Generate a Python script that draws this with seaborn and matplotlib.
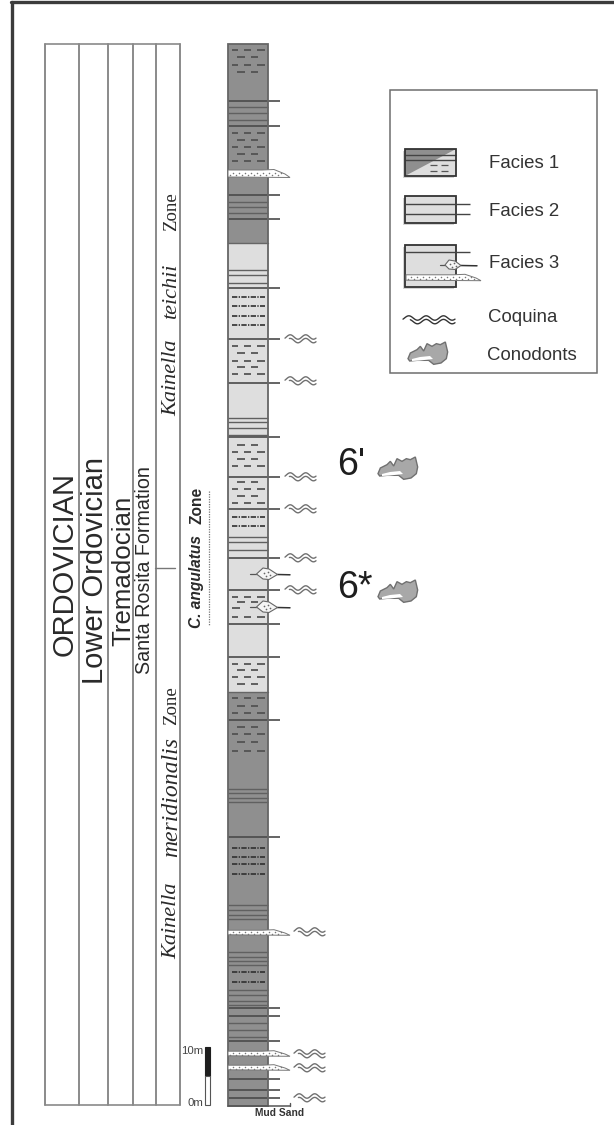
import numpy as np
import pandas as pd
import matplotlib
matplotlib.use("Agg")
import matplotlib.pyplot as plt
import seaborn as sns
from matplotlib.patches import Polygon, Rectangle

# ---------- data (positions along the log, in figure rows) ----------
facies_top = [44, 243, 692]
facies_base = [243, 692, 1106]
facies_shade = ["dark", "light", "dark"]
ticked_beds = [101, 126, 195, 219, 288, 339, 383, 437, 477, 509, 558, 590, 624, 657,
               720, 837, 1008, 1016, 1041, 1079, 1090, 1098]
thin_beds = [107, 113, 120, 202, 207, 213, 270, 275, 283, 418, 422, 428, 435, 537, 542, 550,
             789, 793, 798, 802, 905, 910, 915, 919, 952, 957, 961, 965, 990, 995, 1001, 1005,
             1023, 1030, 1037]
mud_rows_three = [50, 65, 133, 147, 161, 346, 361, 374, 452, 466, 489, 503, 597, 617,
                  664, 677, 698, 713, 734, 751]
mud_rows_two = [57, 72, 140, 154, 353, 367, 445, 459, 482, 496, 602, 670, 684, 706, 727, 742]
silt_rows = [297, 306, 316, 325, 517, 526, 848, 857, 864, 874, 972, 982]
sand_lenses = [174, 933, 1054, 1068]
nodules = [574, 607]
coquina_upper = [339, 381, 477, 509, 558, 590]
coquina_lower = [932, 1054, 1068, 1098]
table_columns = [45, 79, 108, 133, 156, 180]
conodont_marks = [("6'", 465), ("6*", 588)]
legend_labels = ["Facies 1", "Facies 2", "Facies 3", "Coquina", "Conodonts"]
legend_label_rows = [164, 212, 263, 318, 356]
legend_label_cols = [489, 489, 489, 488, 487]

DARK = "#8f8f8f"
LIGHT = "#dedede"
LEFT, RIGHT, TICK_END = 228, 268, 280
SANS = "Liberation Sans"
SERIF = "Liberation Serif"
INK = "#2a2a2a"

sns.set_theme(style="white")
plt.rcParams["font.family"] = [SANS, "DejaVu Sans"]

fig = plt.figure(figsize=(6.14, 11.25), dpi=100, facecolor="white")
ax = fig.add_axes([0, 0, 1, 1])
ax.set_xlim(0, 614)
ax.set_ylim(1125, 0)
ax.axis("off")


def segments(rows, spans):
    """Long table of line pieces for seaborn: one row position + one horizontal span each."""
    recs = []
    uid = 0
    for y in rows:
        for x0, x1 in spans:
            recs += [dict(x=x0, y=y, u=uid), dict(x=x1, y=y, u=uid)]
            uid += 1
    return pd.DataFrame(recs)


def draw(rows, spans, color, lw, **kw):
    sns.lineplot(data=segments(rows, spans), x="x", y="y", units="u", estimator=None,
                 color=color, lw=lw, ax=ax, legend=False, sort=False,
                 solid_capstyle="butt", **kw)
    ax.set_xlim(0, 614)
    ax.set_ylim(1125, 0)
    ax.axis("off")


def wave(x0, y, width=31, color="#707070", lw=1.0, periods=2.0):
    t = np.linspace(0, 1, 100)
    xs = x0 + width * t
    ys = y - 2 + 2.2 * np.sin(t * periods * 2 * np.pi + 2.6)
    ax.plot(xs, ys, color=color, lw=lw, zorder=6)
    ax.plot(xs[14:], ys[14:] + 3.6, color=color, lw=lw, zorder=6)


def sand_lens(x0, x1, y, h=4.0, tip=22):
    pts = [(x0, y - h), (x1 - tip - 6, y - h), (x1 - tip + 6, y - h - 0.5),
           (x1 - 5, y), (x1, y + h - 0.5), (x0, y + h - 1)]
    ax.add_patch(Polygon(pts, closed=True, fc="white", ec="#777777", lw=0.7, zorder=5))
    t = np.arange(x0 + 2, x1 - 6, 3.0)
    ax.scatter(t, y + 0.6 * ((-1.0) ** np.arange(t.size)), s=1.2, c="#777777",
               linewidths=0, zorder=6)


def nodule(xc, y, w=10.5, h=6.0, left=17, right=23):
    ax.plot([xc - left, xc - w], [y, y], color="#555555", lw=0.9, zorder=5)
    ax.plot([xc + w, xc + right], [y + 0.5, y + 0.8], color="#333333", lw=1.1, zorder=5)
    pts = [(xc - w, y), (xc - 4, y - h), (xc + 2, y - h + 1), (xc + w, y + 0.5),
           (xc + 2, y + h - 0.5), (xc - 4, y + h - 1)]
    ax.add_patch(Polygon(pts, closed=True, fc="#f5f5f5", ec="#666666", lw=0.8, zorder=6))
    ax.scatter([xc - 3, xc + 1, xc - 1, xc + 3], [y - 1.5, y - 2, y + 1.5, y + 1], s=1.5,
               c="#666666", linewidths=0, zorder=7)


CONODONT = np.array([(473, 285), (480, 268), (500, 258), (510, 248), (520, 262), (530, 240),
                     (545, 248), (558, 240), (570, 243), (585, 235), (592, 265), (588, 285),
                     (572, 298), (550, 302), (535, 290), (500, 290), (478, 292)], float)


def conodont(x0, y0, scale=1.0):
    pts = (CONODONT - CONODONT.min(axis=0)) / 3 * scale + (x0, y0)
    ax.add_patch(Polygon(pts, closed=True, fc="#a8a8a8", ec="#707070", lw=1.0, zorder=5))
    strip = np.array([(4, 17), (12, 15), (22, 14), (25, 17), (12, 18.5), (4, 19)]) * scale + (x0, y0)
    ax.add_patch(Polygon(strip, closed=True, fc="white", ec="none", zorder=6))


# ---------- page frame ----------
ax.plot([12, 12], [2, 1125], color="#3c3c3c", lw=2.4)
ax.plot([11, 614], [2, 2], color="#3c3c3c", lw=2.4)

# ---------- stratigraphic table ----------
for x in table_columns:
    ax.plot([x, x], [44, 1105], color="#8a8a8a", lw=1.4, zorder=2)
ax.plot([table_columns[0], table_columns[-1]], [44, 44], color="#8a8a8a", lw=1.2)
ax.plot([table_columns[0], table_columns[-1]], [1105, 1105], color="#8a8a8a", lw=1.2)
ax.plot([155, 175], [568, 568], color="#777777", lw=1.0)

ax.text(65, 564, "ORDOVICIAN", rotation=90, ha="center", va="center", fontsize=21, color=INK)
ax.text(95, 570, "Lower Ordovician", rotation=90, ha="center", va="center", fontsize=21, color=INK)
ax.text(123, 571, "Tremadocian", rotation=90, ha="center", va="center", fontsize=18.6, color=INK)
ax.text(145, 570, "Santa Rosita Formation", rotation=90, ha="center", va="center", fontsize=14.2, color=INK)
for label, y, style, size in [("Kainella", 378, "italic", 16), ("teichii", 291, "italic", 16),
                              ("Zone", 212, "normal", 13.5),
                              ("Kainella", 921, "italic", 16), ("meridionalis", 797, "italic", 17),
                              ("Zone", 706, "normal", 13.5)]:
    ax.text(172, y, label, rotation=90, ha="center", va="center", fontsize=size,
            family=SERIF, style=style, color=INK)
ax.text(197, 628, "C. angulatus", rotation=90, ha="center", va="bottom", fontsize=11.2,
        weight="bold", style="italic", color=INK)
ax.text(197, 487, "Zone", rotation=90, ha="center", va="top", fontsize=11.2, weight="bold", color=INK)
ax.plot([209, 209], [491, 625], color="#777777", lw=0.9, ls=(0, (1, 1)))

# ---------- the log ----------
for top, base, shade in zip(facies_top, facies_base, facies_shade):
    ax.add_patch(Rectangle((LEFT, top), RIGHT - LEFT, base - top, zorder=1, lw=0,
                           fc=DARK if shade == "dark" else LIGHT))

draw(thin_beds, [(LEFT, RIGHT)], "#606060", 1.0, zorder=3)
draw(ticked_beds, [(LEFT, TICK_END)], "#4a4a4a", 1.2, zorder=4)
draw(mud_rows_three, [(232, 238), (244, 251), (257, 265)], "#505050", 1.25, zorder=3)
draw(mud_rows_two, [(237, 245), (251, 258)], "#505050", 1.25, zorder=3)
draw([608], [(232, 240)], "#505050", 1.25, zorder=3)
for y in silt_rows:
    ax.plot([232, 265], [y, y], color="#2f2f2f", lw=1.2, ls=(0, (3.2, 0.8, 0.8, 0.8)), zorder=3)

# boundaries between the shades, and the column outline
ax.plot([LEFT, RIGHT], [243, 243], color="#666666", lw=1.0, zorder=4)
ax.plot([LEFT, RIGHT], [692, 692], color="#666666", lw=1.0, zorder=4)
ax.add_patch(Rectangle((LEFT, 44), RIGHT - LEFT, 1062, fc="none", ec="#666666", lw=1.3, zorder=4))

for y in sand_lenses:
    sand_lens(LEFT, 290, y, h=4.0 if y == 174 else 2.8)
for y in nodules:
    nodule(267, y)
for y in coquina_upper:
    wave(285, y)
for y in coquina_lower:
    wave(294, y)

# lithology axis and scale bar
ax.plot([LEFT, 290], [1106, 1106], color="#555555", lw=1.1, zorder=4)
ax.plot([290, 290], [1103, 1106], color="#555555", lw=1.0)
ax.text(280, 1112.5, "Mud Sand", ha="center", va="center", fontsize=7.4, weight="bold", color="#333333")
ax.add_patch(Rectangle((205, 1047), 5, 29, fc="#1e1e1e", ec="#1e1e1e", lw=0.8, zorder=4))
ax.add_patch(Rectangle((205, 1076), 5, 29, fc="white", ec="#555555", lw=0.8, zorder=4))
ax.text(203, 1051, "10m", ha="right", va="center", fontsize=8.2, color="#444444")
ax.text(203, 1103, "0m", ha="right", va="center", fontsize=8.2, color="#444444")

# sample marks
for label, y in conodont_marks:
    ax.text(337, y, label, ha="left", va="center", fontsize=27, color="#1e1e1e")
    conodont(378, y - 8)

# ---------- legend ----------
ax.add_patch(Rectangle((390, 90), 207, 283, fc="white", ec="#6e6e6e", lw=1.1, zorder=2))
for label, row, col in zip(legend_labels, legend_label_rows, legend_label_cols):
    ax.text(col, row, label, ha="left", va="center", fontsize=13.4, color="#333333", zorder=8)

for top, h in [(149, 27), (196, 27), (245, 42)]:
    ax.add_patch(Rectangle((403, top + 2), 51, h, fc="#b8b8b8", ec="none", alpha=0.6, zorder=3))

ax.add_patch(Rectangle((405, 149), 51, 27, fc=LIGHT, ec="none", zorder=4))
ax.add_patch(Polygon([(405, 149), (456, 149), (405, 176)], closed=True, fc=DARK, ec="none", zorder=4))
draw([155, 160], [(405, 456)], "#444444", 1.0, zorder=5)
draw([165, 171], [(430, 437), (441, 448)], "#555555", 0.9, zorder=5)
ax.add_patch(Rectangle((405, 149), 51, 27, fc="none", ec="#333333", lw=1.3, zorder=6))

ax.add_patch(Rectangle((405, 196), 51, 27, fc=LIGHT, ec="#333333", lw=1.3, zorder=4))
draw([204, 214], [(405, 470)], "#444444", 1.0, zorder=5)

ax.add_patch(Rectangle((405, 245), 51, 42, fc=LIGHT, ec="#333333", lw=1.3, zorder=4))
draw([252], [(405, 470)], "#444444", 1.0, zorder=5)
nodule(453, 265, w=8, h=5, left=13, right=24)
sand_lens(406, 481, 278, h=3.2, tip=22)

wave(403, 320, width=52, color="#333333", lw=1.0, periods=3.0)
conodont(408, 342, scale=1.0)

fig.savefig("out.png", dpi=100, facecolor="white")
